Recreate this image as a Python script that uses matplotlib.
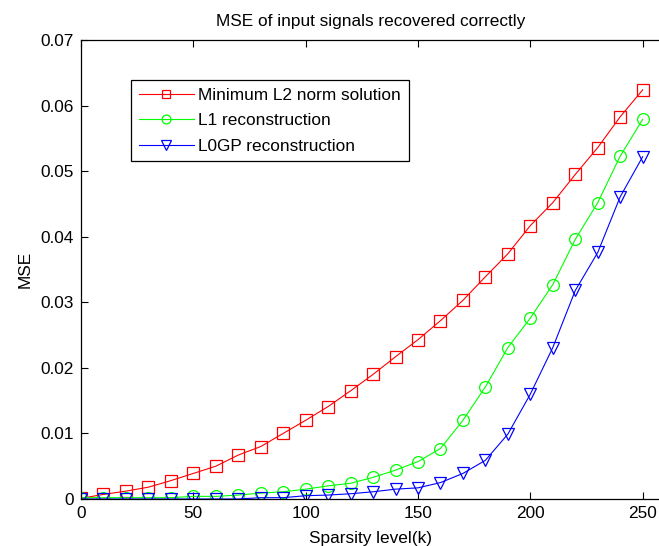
import matplotlib
matplotlib.use("Agg")
import matplotlib.pyplot as plt

# sparsity levels and MSE values
k = [0, 10, 20, 30, 40, 50, 60, 70, 80, 90, 100, 110, 120, 130, 140,
     150, 160, 170, 180, 190, 200, 210, 220, 230, 240, 250]
mse_l2 = [0.0001, 0.0007, 0.0012, 0.0018, 0.0028, 0.0039, 0.0050, 0.0067,
          0.0080, 0.0100, 0.0120, 0.0141, 0.0165, 0.0190, 0.0217, 0.0243,
          0.0272, 0.0303, 0.0339, 0.0374, 0.0417, 0.0452, 0.0495, 0.0536,
          0.0583, 0.0624]
mse_l1 = [0.0002, 0.0002, 0.0002, 0.0002, 0.0002, 0.0004, 0.0004, 0.0006,
          0.0009, 0.0011, 0.0015, 0.0020, 0.0024, 0.0033, 0.0044, 0.0057,
          0.0077, 0.0120, 0.0171, 0.0231, 0.0276, 0.0327, 0.0396, 0.0452,
          0.0523, 0.0579]
mse_l0gp = [0.0000, 0.0000, 0.0000, 0.0000, 0.0000, 0.0000, 0.0000, 0.0000,
            0.0002, 0.0002, 0.0005, 0.0006, 0.0008, 0.0011, 0.0015, 0.0017,
            0.0025, 0.0039, 0.0059, 0.0099, 0.0160, 0.0231, 0.0318, 0.0376,
            0.0461, 0.0522]
labels = ["Minimum L2 norm solution", "L1 reconstruction", "L0GP reconstruction"]

plt.rcParams["font.family"] = ["Liberation Sans", "DejaVu Sans"]
plt.rcParams["font.size"] = 12.4

fig = plt.figure(figsize=(6.59, 5.46), dpi=100)
ax = fig.add_axes([0.1229, 0.0861, 0.8786, 0.8406])

ax.plot(k, mse_l2, color="red", marker="s", mfc="none", ms=8.5, mew=0.9, lw=0.8, label=labels[0])
ax.plot(k, mse_l1, color="#00ff00", marker="o", mfc="none", ms=8.5, mew=0.9, lw=0.8, label=labels[1])
ax.plot(k, mse_l0gp, color="blue", marker="v", mfc="none", ms=9, mew=0.9, lw=0.8, label=labels[2])

ax.set_xlim(0, 257.7)
ax.set_ylim(0, 0.07)
ax.set_xticks([0, 50, 100, 150, 200, 250])
ax.set_yticks([0, 0.01, 0.02, 0.03, 0.04, 0.05, 0.06, 0.07])
ax.set_yticklabels(["0", "0.01", "0.02", "0.03", "0.04", "0.05", "0.06", "0.07"])
ax.tick_params(direction="in", top=True, right=False, length=5, width=0.8, pad=5)
ax.spines["right"].set_visible(False)
for s in ax.spines.values():
    s.set_linewidth(0.9)

ax.set_title("MSE of input signals recovered correctly", fontsize=12.4, pad=10)
ax.set_xlabel("Sparsity level(k)", labelpad=7)
ax.set_ylabel("MSE", labelpad=6)

leg = ax.legend(loc="upper left", bbox_to_anchor=(0.0865, 0.913), borderaxespad=0,
                fancybox=False, edgecolor="black", framealpha=1, handlelength=3.2,
                handletextpad=0.25, labelspacing=0.6, borderpad=0.45, markerscale=0.75)
leg.get_frame().set_linewidth(0.9)

fig.savefig("out.png", dpi=100)
